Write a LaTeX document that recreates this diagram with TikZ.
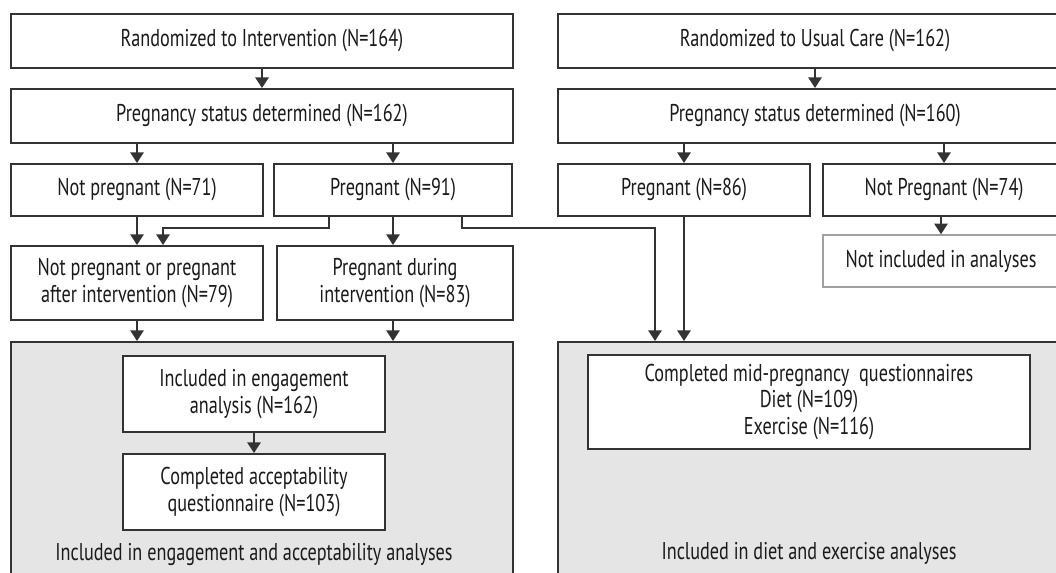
\documentclass[tikz,border=0pt]{standalone}
\usepackage{fontspec}
\setmainfont{PT Sans}[FakeStretch=0.75]
\usetikzlibrary{arrows.meta,calc}
\definecolor{boxc}{HTML}{333333}
\definecolor{grayfill}{HTML}{E5E5E5}
\definecolor{lightb}{HTML}{A0A0A0}
\definecolor{txtc}{HTML}{1A1A1A}
\begin{document}
\begin{tikzpicture}[x=0.75pt,y=-0.75pt,
  wh/.style 2 args={minimum width=#1*0.75pt,minimum height=#2*0.75pt},
  box/.style={draw=boxc,line width=1.5pt,fill=white,align=center,inner sep=0pt,text=txtc,font=\fontsize{18.2}{20}\selectfont},
  gbox/.style={draw=boxc,line width=1.5pt,fill=grayfill,inner sep=0pt},
  txt/.style={align=center,inner sep=0pt,text=txtc,font=\fontsize{18.2}{20}\selectfont},
  arr/.style={draw=boxc,line width=1.5pt,-{Triangle[width=10pt,length=8pt]}}]
\useasboundingbox (0,0) rectangle (1056,573);
\clip (0,0) rectangle (1056,573);
\fill[white] (0,0) rectangle (1056,573);
% left column
\node[box,wh={502}{54}] (L1) at (262,41) {Randomized to Intervention (N=164)};
\node[box,wh={502}{54}] (L2) at (262,116) {Pregnancy status determined (N=162)};
\node[box,wh={252}{52}] (LNP) at (137,190) {Not pregnant (N=71)};
\node[box,wh={238}{52}] (LP) at (393,190) {Pregnant (N=91)};
\node[box,wh={252}{74}] (LA) at (137,283) {Not pregnant or pregnant\\after intervention (N=79)};
\node[box,wh={236}{74}] (LD) at (395,283) {Pregnant during\\intervention (N=83)};
\node[gbox,wh={502}{258}] (GL) at (262,471) {};
\node[box,wh={262}{76}] (LE) at (254,394) {Included in engagement\\analysis (N=162)};
\node[box,wh={262}{76}] (LC) at (254,492) {Completed acceptability\\questionnaire (N=103)};
\node[txt] (LT) at (254,554) {Included in engagement and acceptability analyses};
% right column
\node[box,wh={514}{54}] (R1) at (815,41) {Randomized to Usual Care (N=162)};
\node[box,wh={514}{54}] (R2) at (815,116) {Pregnancy status determined (N=160)};
\node[box,wh={252}{52}] (RP) at (684,190) {Pregnant (N=86)};
\node[box,wh={242}{52}] (RNP) at (944,190) {Not Pregnant (N=74)};
\node[box,draw=lightb,line width=1.1pt,wh={236}{52}] (RNI) at (941,261) {Not included in analyses};
\node[gbox,wh={542}{258}] (GR) at (829,471) {};
\node[box,wh={442}{94}] (RM) at (809,402) {Completed mid-pregnancy~ questionnaires\\Diet (N=109)\\Exercise (N=116)};
\node[txt] (RT) at (809,553) {Included in diet and exercise analyses};
% bend points
\coordinate (a1) at (329,228);
\coordinate (a2) at (163,228);
\coordinate (b1) at (462,228);
\coordinate (b2) at (655,228);
% connectors
\draw[arr] (L1) -- (L2);
\draw[arr] (L2.south -| LNP) -- (LNP);
\draw[arr] (L2.south -| LP) -- (LP);
\draw[arr] (LNP.south) -- (LNP.south |- LA.north);
\draw[arr] (LP.south -| a1) -- (a1) -- (a2) -- (a2 |- LA.north);
\draw[arr] (LP.south) -- (LP.south |- LD.north);
\draw[arr] (LP.south -| b1) -- (b1) -- (b2) -- (b2 |- GR.north);
\draw[arr] (LA.south) -- (LA.south |- GL.north);
\draw[arr] (LD.south -| LP) -- (LP |- GL.north);
\draw[arr] (LE) -- (LC);
\draw[arr] (R1) -- (R2);
\draw[arr] (R2.south -| RP) -- (RP);
\draw[arr] (R2.south -| RNP) -- (RNP);
\draw[arr] (RNP.south -| RNI) -- (RNI);
\draw[arr] (RP.south) -- (RP.south |- GR.north);
\end{tikzpicture}
\end{document}
